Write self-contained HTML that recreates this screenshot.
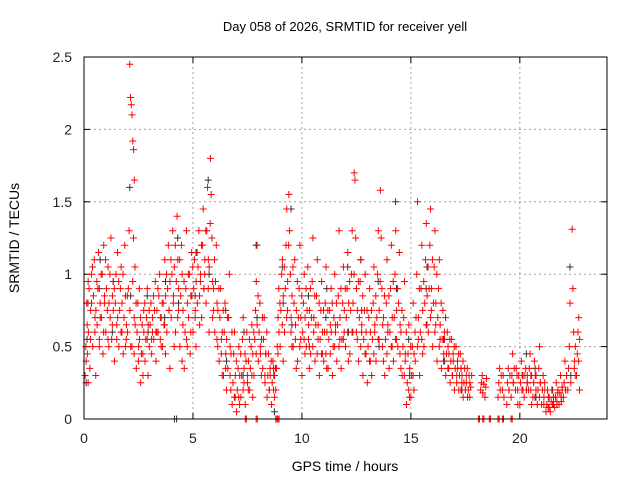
<!DOCTYPE html>
<html><head><meta charset="utf-8"><style>
body{margin:0;background:#fff}
svg{display:block;font-family:"Liberation Sans",sans-serif}
</style></head><body>
<svg id="chart" width="640" height="480">
<text x="345" y="31" font-size="13" text-anchor="middle">Day 058 of 2026, SRMTID for receiver yell</text>
<text x="345" y="471" font-size="14" text-anchor="middle">GPS time / hours</text>
<text transform="translate(19,238) rotate(-90)" font-size="14" text-anchor="middle">SRMTID / TECUs</text>
<g id="grid"></g><g id="ticks"></g><g id="black"></g><g id="red"></g>
<rect x="84" y="57" width="523" height="362" fill="none" stroke="#000" stroke-width="1"/>
</svg>
<script>
const xTicks=[0,5,10,15,20];
const yTicks=[0,0.5,1,1.5,2,2.5];
const yTickLabels=["0","0.5","1","1.5","2","2.5"];
const redGroups=[
[0.05,[0.3,0.5,0.8,0.45,0.25]],[0.2,[0.6,0.9,0.35,0.75,1.0]],[0.4,[0.5,0.85,1.1,0.7,0.3]],[0.6,[0.65,0.9,1.15,0.55,0.8]],[0.8,[0.7,1.0,0.45,1.2,0.85]],
[1.0,[0.6,0.9,0.75,1.05,0.5]],[1.2,[0.7,1.25,0.55,0.85,0.95]],[1.4,[0.4,0.8,1.0,0.65,1.15]],[1.6,[0.5,0.75,0.9,1.05,0.6]],[1.8,[0.45,0.7,1.2,0.85,0.55]],
[2.0,[0.6,0.9,1.3,0.75,0.5]],[2.1,[2.45,2.22,2.17,2.1,1.92,1.86,1.65]],[2.2,[0.5,0.95,1.25,0.7,1.05]],[2.4,[0.35,0.6,0.8,0.5,0.9]],[2.6,[0.25,0.45,0.65,0.3,0.75]],
[2.8,[0.4,0.55,0.7,0.9,0.3]],[3.0,[0.5,0.65,0.8,0.45,0.6]],[3.2,[0.55,0.75,0.95,0.4,0.6]],[3.4,[0.6,0.85,1.0,0.7,0.5]],[3.6,[0.5,0.8,0.65,1.1,0.45]],
[3.8,[0.6,0.9,1.2,0.75,0.35]],[4.0,[0.7,1.0,1.3,0.85,0.5]],[4.2,[0.6,0.95,1.4,1.1,0.75]],[4.4,[0.5,0.85,1.2,1.0,0.65]],[4.6,[0.35,0.6,0.9,1.3,0.5]],
[4.8,[0.7,1.0,0.45,0.85,1.15]],[5.0,[0.6,0.9,1.1,0.75,0.5]],[5.2,[0.8,1.05,1.3,0.65,0.95]],[5.4,[0.7,1.2,1.45,0.9,1.0]],[5.6,[0.8,1.3,1.6,1.1,0.6]],
[5.8,[1.8,1.55,1.25,0.95,0.75]],[6.0,[0.6,0.95,1.2,0.8,0.5]],[6.2,[0.4,0.7,0.9,0.55,0.3]],[6.4,[0.3,0.6,0.8,0.45,0.2]],[6.6,[0.35,0.7,1.0,0.5,0.2]],
[6.8,[0.1,0.25,0.45,0.6,0.15]],[7.0,[0.05,0.2,0.35,0.5,0.1]],[7.2,[0.15,0.3,0.55,0.7,0.25]],[7.4,[0.1,0.4,0.6,0.3,0.2]],[7.6,[0.2,0.35,0.5,0.65,0.15]],
[7.8,[0.3,0.55,0.75,0.95,1.2]],[8.0,[0.4,0.6,0.8,0.5,0.3]],[8.2,[0.35,0.55,0.7,0.25,0.45]],[8.4,[0.15,0.3,0.45,0.2,0.35]],[8.6,[0.1,0.25,0.4,0.3,0.15]],
[8.8,[0.2,0.35,0.5,0.7,0.9]],[9.0,[0.5,0.75,1.0,1.1,0.4]],[9.2,[0.6,0.9,1.2,1.45,0.75]],[9.4,[1.55,1.3,1.0,0.7,0.5]],[9.6,[0.5,0.8,1.1,0.65,0.35]],
[9.8,[0.4,0.7,0.9,1.2,0.55]],[10.0,[0.3,0.6,0.8,1.0,0.45]],[10.2,[0.5,0.75,1.05,0.65,0.35]],[10.4,[0.45,0.7,0.95,1.25,0.6]],[10.6,[0.4,0.65,0.85,1.1,0.55]],
[10.8,[0.3,0.55,0.75,0.95,0.45]],[11.0,[0.4,0.6,0.8,1.05,0.35]],[11.2,[0.35,0.55,0.75,0.65,0.9]],[11.4,[0.3,0.5,0.7,1.0,0.6]],[11.6,[0.4,0.65,0.85,1.3,0.55]],
[11.8,[0.35,0.55,0.8,1.05,0.6]],[12.0,[0.5,0.7,0.9,1.15,0.4]],[12.2,[0.45,0.75,1.0,1.3,0.6]],[12.4,[1.7,1.65,1.25,0.9,0.55]],[12.6,[0.4,0.7,0.95,1.1,0.6]],
[12.8,[0.3,0.55,0.75,1.0,0.45]],[13.0,[0.25,0.5,0.7,0.9,0.4]],[13.2,[0.3,0.55,0.8,1.05,0.6]],[13.4,[0.4,0.7,1.0,1.3,0.55]],[13.6,[1.58,1.25,0.9,0.65,0.4]],
[13.8,[0.3,0.55,0.8,1.1,0.6]],[14.0,[0.35,0.6,0.9,1.2,0.5]],[14.2,[0.4,0.7,1.0,1.3,0.55]],[14.4,[0.5,0.8,1.15,0.65,0.35]],[14.6,[0.3,0.5,0.7,0.95,0.4]],
[14.8,[0.1,0.25,0.45,0.65,0.15]],[15.0,[0.15,0.3,0.5,0.8,0.2]],[15.2,[0.4,0.7,1.0,1.5,0.55]],[15.4,[0.3,0.6,0.9,1.2,0.45]],[15.6,[0.5,0.8,1.1,1.35,0.65]],
[15.8,[0.6,0.9,1.2,1.45,0.75]],[16.0,[0.5,0.8,1.05,1.3,0.65]],[16.2,[0.4,0.7,0.9,1.1,0.55]],[16.4,[0.35,0.55,0.75,0.45,0.6]],[16.6,[0.3,0.45,0.6,0.5,0.35]],
[16.8,[0.25,0.4,0.55,0.3,0.45]],[17.0,[0.2,0.35,0.5,0.3,0.4]],[17.2,[0.2,0.3,0.45,0.35,0.25]],[17.4,[0.15,0.25,0.35,0.2,0.3]],[17.6,[0.15,0.2,0.3,0.25]],
[18.2,[0.2,0.25,0.3]],[18.4,[0.15,0.22,0.28]],[19.0,[0.15,0.25,0.35]],[19.2,[0.2,0.3,0.15]],[19.4,[0.1,0.25,0.35,0.2]],
[19.6,[0.15,0.3,0.45,0.25]],[19.8,[0.2,0.35,0.3,0.1]],[20.0,[0.1,0.25,0.4,0.3,0.2]],[20.2,[0.15,0.3,0.35,0.2,0.25]],[20.4,[0.2,0.35,0.45,0.3,0.1]],
[20.6,[0.15,0.25,0.4,0.3,0.2]],[20.8,[0.1,0.2,0.35,0.5,0.25]],[21.0,[0.1,0.2,0.3,0.15,0.25]],[21.2,[0.05,0.1,0.2,0.15,0.08]],[21.4,[0.05,0.12,0.2,0.1,0.15]],
[21.6,[0.08,0.15,0.25,0.1,0.18]],[21.8,[0.1,0.18,0.3,0.12,0.22]],[22.0,[0.15,0.25,0.4,0.2,0.3]],[22.2,[0.2,0.35,0.5,0.8,0.25]],[22.4,[1.31,0.9,0.6,0.4,0.3]],
[22.6,[0.3,0.45,0.6,0.7,0.2]]
];
const redGroupsB=[
[0.1,[0.4,0.65,0.95]],[0.3,[0.55,0.8,1.05]],[0.5,[0.6,0.75,0.95]],[0.7,[0.5,0.7,1.0]],[0.9,[0.6,0.8,1.1]],
[1.1,[0.55,0.8,1.0]],[1.3,[0.65,0.75,0.9]],[1.5,[0.55,0.7,0.95]],[1.7,[0.6,0.8,1.0]],[1.9,[0.5,0.65,0.85]],
[2.3,[0.45,0.65,0.8]],[2.5,[0.4,0.55,0.7]],[2.7,[0.45,0.6,0.8]],[2.9,[0.55,0.65,0.75]],[3.1,[0.55,0.7,0.85]],
[3.3,[0.6,0.75,0.9]],[3.5,[0.55,0.7,0.8]],[3.7,[0.65,0.85,1.0]],[3.9,[0.75,0.95,1.1]],[4.1,[0.8,1.05,1.2]],
[4.3,[0.7,0.9,1.1]],[4.5,[0.4,0.75,0.95]],[4.7,[0.55,0.8,1.0]],[4.9,[0.6,0.85,1.05]],[5.1,[0.7,0.95,1.15]],
[5.3,[0.85,1.0,1.2]],[5.5,[0.9,1.1,1.3]],[5.7,[0.9,1.05,1.35]],[5.9,[0.7,0.9,1.1]],[6.1,[0.55,0.75,0.9]],
[6.3,[0.45,0.6,0.75]],[6.5,[0.35,0.55,0.7]],[6.7,[0.3,0.45,0.6]],[6.9,[0.15,0.3,0.4]],[7.1,[0.15,0.3,0.45]],
[7.3,[0.2,0.35,0.45]],[7.5,[0.25,0.4,0.55]],[7.7,[0.3,0.45,0.6]],[7.9,[0.45,0.65,0.85]],[8.1,[0.45,0.55,0.7]],
[8.3,[0.3,0.45,0.6]],[8.5,[0.2,0.3,0.4]],[8.7,[0.2,0.3,0.35]],[8.9,[0.45,0.6,0.8]],[9.1,[0.65,0.85,1.05]],
[9.3,[0.7,0.95,1.2]],[9.5,[0.6,0.85,1.05]],[9.7,[0.55,0.75,0.95]],[9.9,[0.5,0.7,0.85]],[10.1,[0.55,0.7,0.9]],
[10.3,[0.55,0.75,0.9]],[10.5,[0.5,0.7,0.85]],[10.7,[0.45,0.65,0.8]],[10.9,[0.45,0.6,0.75]],[11.1,[0.45,0.6,0.75]],
[11.3,[0.45,0.6,0.8]],[11.5,[0.5,0.65,0.8]],[11.7,[0.5,0.7,0.9]],[11.9,[0.55,0.75,0.9]],[12.1,[0.6,0.8,0.95]],
[12.3,[0.6,0.8,1.0]],[12.5,[0.6,0.75,0.95]],[12.7,[0.5,0.65,0.85]],[12.9,[0.45,0.6,0.75]],[13.1,[0.4,0.6,0.75]],
[13.3,[0.45,0.65,0.85]],[13.5,[0.55,0.75,0.95]],[13.7,[0.5,0.7,0.85]],[13.9,[0.45,0.65,0.85]],[14.1,[0.5,0.7,0.95]],
[14.3,[0.55,0.75,0.9]],[14.5,[0.45,0.6,0.75]],[14.7,[0.3,0.45,0.6]],[14.9,[0.2,0.35,0.5]],[15.1,[0.3,0.45,0.6]],
[15.3,[0.5,0.7,0.9]],[15.5,[0.55,0.75,0.95]],[15.7,[0.65,0.85,1.05]],[15.9,[0.7,0.9,1.1]],[16.1,[0.6,0.8,1.0]],
[16.3,[0.5,0.65,0.8]],[16.5,[0.4,0.55,0.7]],[16.7,[0.35,0.45,0.55]],[16.9,[0.3,0.4,0.5]],[17.1,[0.25,0.35,0.45]],
[17.3,[0.2,0.3,0.4]],[17.5,[0.2,0.25,0.35]],[17.7,[0.15,0.22,0.3]],[18.3,[0.18,0.24]],[19.1,[0.2,0.3]],
[19.5,[0.2,0.3]],[19.7,[0.25,0.35]],[19.9,[0.2,0.3]],[20.1,[0.2,0.3]],[20.3,[0.2,0.3]],
[20.5,[0.2,0.3]],[20.7,[0.15,0.3]],[20.9,[0.15,0.25]],[21.1,[0.1,0.2]],[21.3,[0.08,0.15]],
[21.5,[0.1,0.15]],[21.7,[0.12,0.2]],[21.9,[0.15,0.2]],[22.1,[0.2,0.3]],[22.5,[0.35,0.5]],[22.7,[0.4,0.55]]
];
const blackGroups=[
[0.1,[0.25,0.55,0.8]],[0.7,[0.9,1.1]],[1.3,[0.6,0.95]],[2.1,[1.6,0.85]],[2.9,[0.85,0.6]],[3.7,[0.7,0.95]],[4.3,[1.25,0.8]],[5.1,[0.85,1.15]],
[5.7,[1.65,1.0]],[6.5,[0.75,0.4]],[7.3,[0.3,0.6]],[7.9,[1.2,0.7]],[8.7,[0.35,0.05]],[9.1,[1.05,0.8]],[9.5,[1.45,0.65]],[10.3,[0.85,0.5]],
[11.1,[0.7,0.9]],[12.1,[1.05,0.6]],[12.7,[1.1,0.75]],[13.5,[0.95,0.5]],[14.3,[1.5,0.9]],[14.9,[0.55,0.3]],[15.7,[0.9,1.05]],[16.5,[0.55,0.4]],
[17.3,[0.35,0.2]],[20.3,[0.45,0.25]],[20.7,[0.35,0.15]],[21.5,[0.2,0.1]],[22.3,[1.05,0.3]]
];
const redZeros=[7.4,7.9,8.8,8.9,18.1,18.3,18.6,19.0,19.2,19.6];
const blackZeros=[4.15,4.25];
const NS="http://www.w3.org/2000/svg";
const X0=84,X1=607,Y0=419,Y1=57;
function xs(t){return X0+(t/24)*(X1-X0);}
function ys(v){return Y0-(v/2.5)*(Y0-Y1);}
function mk(tag,attrs,parent){const e=document.createElementNS(NS,tag);for(const k in attrs)e.setAttribute(k,attrs[k]);parent.appendChild(e);return e;}
const grid=document.getElementById('grid'),ticks=document.getElementById('ticks');
xTicks.forEach(t=>{
 const x=xs(t);
 if(t>0){const g=mk('line',{x1:x,x2:x,y1:Y0,y2:Y1,stroke:'#a0a0a0','stroke-dasharray':'2,3'},grid);
 
 }
 mk('line',{x1:x,x2:x,y1:Y0,y2:Y0-6,stroke:'#000'},ticks);
 mk('line',{x1:x,x2:x,y1:Y1,y2:Y1+6,stroke:'#000'},ticks);
 const l=mk('text',{x:x,y:443,'font-size':14,'text-anchor':'middle',fill:'#222'},ticks);l.textContent=t;
 
 
});
yTicks.forEach((v,i)=>{
 const y=ys(v);
 if(v>0&&v<2.5){const g=mk('line',{x1:X0,x2:X1,y1:y,y2:y,stroke:'#a0a0a0','stroke-dasharray':'2,3'},grid);
 
 }
 mk('line',{x1:X0,x2:X0+6,y1:y,y2:y,stroke:'#000'},ticks);
 mk('line',{x1:X1,x2:X1-6,y1:y,y2:y,stroke:'#000'},ticks);
 const l=mk('text',{x:72,y:y+5,'font-size':14,'text-anchor':'end',fill:'#222'},ticks);l.textContent=yTickLabels[i];
 
 
});
function plus(parent,t,v,col){
 const x=xs(t),y=ys(v);
 const p=mk('path',{d:`M${x-3.5},${y}h7M${x},${y-3.5}v7`,stroke:col,'stroke-width':1,fill:'none'},parent);
 
 
}
const bg=document.getElementById('black'),rg=document.getElementById('red');
blackGroups.forEach(([t,vals])=>vals.forEach((v,j)=>plus(bg,t+j*0.04,v,'#333')));
redGroups.forEach(([t,vals])=>vals.forEach((v,j)=>plus(rg,t+j*0.035,v,'#ff0000')));
redGroupsB.forEach(([t,vals])=>vals.forEach((v,j)=>plus(rg,t+j*0.045,v,'#ff0000')));
blackZeros.forEach(t=>plus(bg,t,0,'#333'));
redZeros.forEach(t=>{plus(rg,t,0,'#ff0000');plus(rg,t+0.05,0,'#ff0000');});
</script>
</body></html>
